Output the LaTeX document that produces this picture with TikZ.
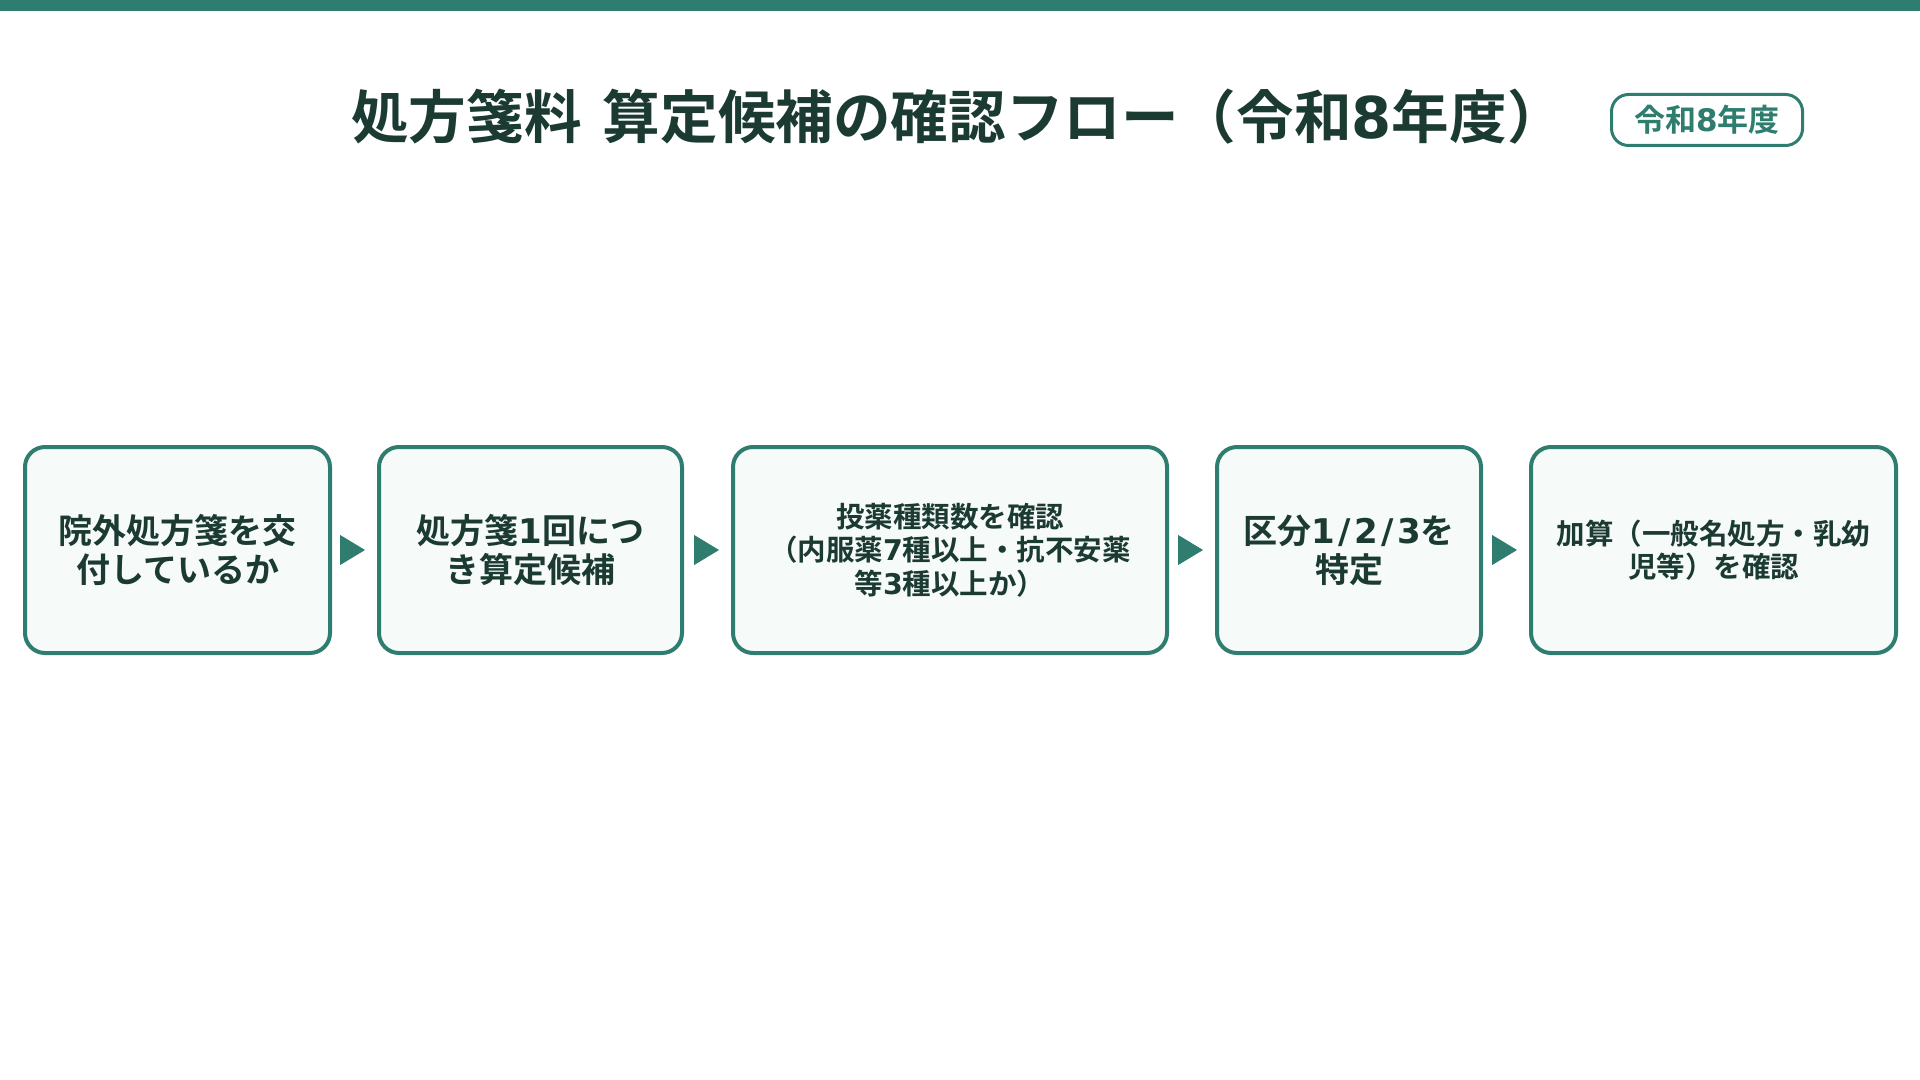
\documentclass[tikz,border=0pt]{standalone}
\usepackage{fontspec}
\setmainfont{Noto Sans CJK JP}[BoldFont={* Bold}]
\newfontfamily\digitfont{DejaVu Sans}
\newcommand{\numtxt}[1]{{\digitfont #1}}
\usepackage{tikz}
\usetikzlibrary{arrows.meta}
\usepackage{xcolor}
\definecolor{flowgreen}{HTML}{2E7D6E}
\definecolor{flowdark}{HTML}{1B3A32}
\definecolor{flowfill}{HTML}{F6FAF9}

\begin{document}
\begin{tikzpicture}[x=0.5pt, y=-0.5pt,
		stepbox/.style={draw=flowgreen, line width=2pt, fill=flowfill, rounded corners=10pt,
			minimum width=#1, minimum height=103pt, inner sep=0pt, align=center, text=flowdark,
			font=\bfseries\fontsize{17}{19.5}\selectfont},
		smalltext/.style={font=\bfseries\fontsize{14.25}{16.75}\selectfont},
		flowarrow/.style={-{Triangle[length=12.5pt,width=15pt]}, color=flowgreen, line width=0.4pt,
			shorten <=6pt, shorten >=6pt},
		badge/.style={draw=flowgreen, line width=1.5pt, rounded corners=8.5pt, minimum width=95.5pt,
			minimum height=25.5pt, inner sep=0pt, text=flowgreen, font=\bfseries\fontsize{15.5}{17}\selectfont},
		titletext/.style={text=flowdark, inner sep=0pt, font=\bfseries\fontsize{28.8}{32}\selectfont}]
	\useasboundingbox (0, 0) rectangle (1920, 1080);
	\fill[flowgreen] (0, 0) rectangle (1920, 11);
	% header
	\node[titletext] (title) at (958, 117) {処方箋料\hspace{0.37em}算定候補の確認フロー（令和\numtxt{8}年度）};
	\node[badge] (year) at (1707, 120) {令和\numtxt{8}年度};
	% steps
	\node[stepbox=152.5pt] (issue) at (177.5, 550) {院外処方箋を交\\付しているか};
	\node[stepbox=151.5pt] (once) at (530.5, 550) {処方箋\numtxt{1}回につ\\き算定候補};
	\node[stepbox=217pt, smalltext] (kinds) at (950, 550) {投薬種類数を確認\\（内服薬\numtxt{7}種以上・抗不安薬\\等\numtxt{3}種以上か）};
	\node[stepbox=132pt] (class) at (1349, 550) {区分\numtxt{1\kern.1em/\kern.1em2\kern.1em/\kern.1em3}を\\特定};
	\node[stepbox=182.5pt, smalltext] (extra) at (1713.5, 550) {加算（一般名処方・乳幼\\児等）を確認};
	\draw[flowarrow] (issue.east) -- (once.west);
	\draw[flowarrow] (once.east) -- (kinds.west);
	\draw[flowarrow] (kinds.east) -- (class.west);
	\draw[flowarrow] (class.east) -- (extra.west);
\end{tikzpicture}
\end{document}
